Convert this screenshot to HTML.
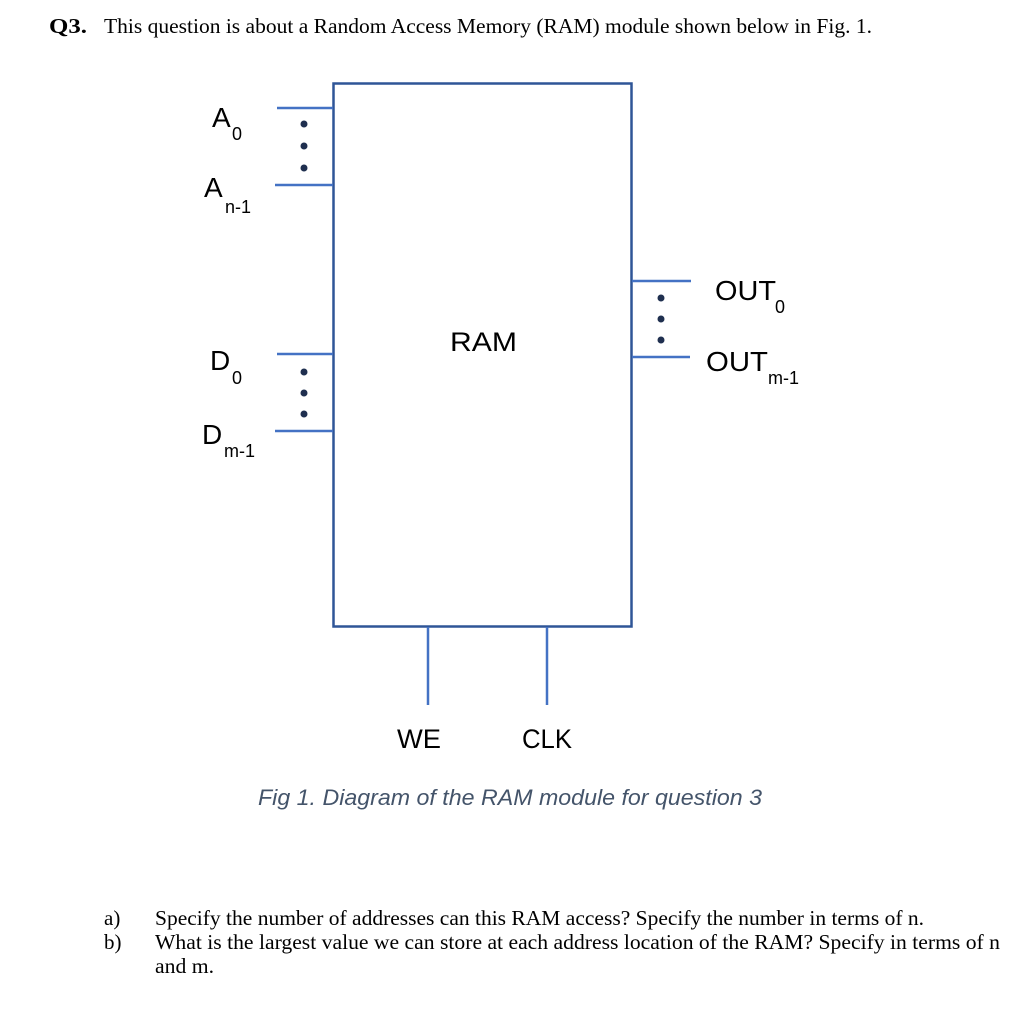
<!DOCTYPE html>
<html><head><meta charset="utf-8"><style>
html,body{margin:0;padding:0;background:#fff;}
svg{display:block;}
</style></head><body>
<svg width="1024" height="1012" viewBox="0 0 1024 1012" xmlns="http://www.w3.org/2000/svg">
<g font-family="Liberation Serif, serif" font-size="21" fill="#000">
<text x="49" y="33" font-weight="bold" textLength="38" lengthAdjust="spacingAndGlyphs">Q3.</text>
<text x="104" y="33" textLength="768" lengthAdjust="spacingAndGlyphs">This question is about a Random Access Memory (RAM) module shown below in Fig. 1.</text>
<text x="104" y="925">a)</text>
<text x="155" y="925" textLength="769" lengthAdjust="spacingAndGlyphs">Specify the number of addresses can this RAM access? Specify the number in terms of n.</text>
<text x="104" y="949">b)</text>
<text x="155" y="949" textLength="845" lengthAdjust="spacingAndGlyphs">What is the largest value we can store at each address location of the RAM? Specify in terms of n</text>
<text x="155" y="973" textLength="59" lengthAdjust="spacingAndGlyphs">and m.</text>
</g>
<g stroke="#4472c4" stroke-width="2.5" fill="none">
<rect x="333.5" y="83.5" width="298" height="543" stroke="#2f5597"/>
<line x1="277" y1="108" x2="333" y2="108"/>
<line x1="275" y1="185" x2="333" y2="185"/>
<line x1="277" y1="354" x2="333" y2="354"/>
<line x1="275" y1="431" x2="333" y2="431"/>
<line x1="632" y1="281" x2="691" y2="281"/>
<line x1="632" y1="357" x2="690" y2="357"/>
<line x1="428" y1="627" x2="428" y2="705"/>
<line x1="547" y1="627" x2="547" y2="705"/>
</g>
<g fill="#1f2f4f">
<circle cx="304" cy="124" r="3.5"/><circle cx="304" cy="146" r="3.5"/><circle cx="304" cy="168" r="3.5"/>
<circle cx="304" cy="372" r="3.5"/><circle cx="304" cy="393" r="3.5"/><circle cx="304" cy="414" r="3.5"/>
<circle cx="661" cy="298" r="3.5"/><circle cx="661" cy="319" r="3.5"/><circle cx="661" cy="340" r="3.5"/>
</g>
<g font-family="Liberation Sans, sans-serif" fill="#000">
<text x="212" y="127" font-size="28">A</text><text x="232" y="140" font-size="18">0</text>
<text x="204" y="197" font-size="28">A</text><text x="225" y="213" font-size="18">n-1</text>
<text x="210" y="370" font-size="28">D</text><text x="232" y="384" font-size="18">0</text>
<text x="202" y="444" font-size="28">D</text><text x="224" y="457" font-size="18">m-1</text>
<text x="715" y="300" font-size="28" textLength="61" lengthAdjust="spacingAndGlyphs">OUT</text><text x="775" y="313" font-size="18">0</text>
<text x="706" y="371" font-size="28" textLength="62" lengthAdjust="spacingAndGlyphs">OUT</text><text x="768" y="384" font-size="18">m-1</text>
<text x="450" y="351" font-size="27" textLength="67" lengthAdjust="spacingAndGlyphs">RAM</text>
<text x="397" y="748" font-size="27" textLength="44" lengthAdjust="spacingAndGlyphs">WE</text>
<text x="522" y="748" font-size="27" textLength="50" lengthAdjust="spacingAndGlyphs">CLK</text>
<text x="258" y="805" font-size="22" font-style="italic" fill="#44546a" textLength="504" lengthAdjust="spacingAndGlyphs">Fig 1. Diagram of the RAM module for question 3</text>
</g>
</svg>
</body></html>
